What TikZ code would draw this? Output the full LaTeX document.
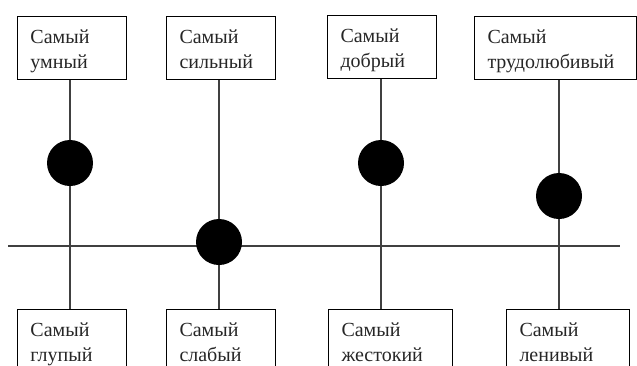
\documentclass[tikz,border=0pt]{standalone}
\usepackage{fontspec}
\setmainfont{Liberation Serif}
\usetikzlibrary{backgrounds}

\tikzset{
 trait/.style={draw, line width=1pt, anchor=north west, align=left,
   inner xsep=13pt, inner ysep=0pt, text height=27pt, text depth=36pt,
   text=black!85, font=\fontsize{20}{25}\selectfont},
 dot/.style={circle, fill=black, minimum size=46pt, inner sep=0pt},
 axis/.style={black!75, line width=1.3pt}
}

\begin{document}
\begin{tikzpicture}[x=1pt,y=-1pt]
\useasboundingbox (0,0) rectangle (637,365);
\clip (0,0) rectangle (637,365);
% upper qualities
\node[trait, text width=83pt]  (t1) at (17,16)  {Самый\\умный};
\node[trait, text width=83pt]  (t2) at (166,16) {Самый\\сильный};
\node[trait, text width=83pt]  (t3) at (327,15) {Самый\\добрый};
\node[trait, text width=136pt] (t4) at (474,16) {Самый\\трудолюбивый};
% lower qualities
\node[trait, text width=83pt]  (b1) at (17,309)  {Самый\\глупый};
\node[trait, text width=83pt]  (b2) at (166,309) {Самый\\слабый};
\node[trait, text width=98pt]  (b3) at (328,309) {Самый\\жестокий};
\node[trait, text width=97pt]  (b4) at (506,309) {Самый\\ленивый};
% marks
\node[dot] (c1) at (70,163) {};
\node[dot] (c2) at (219,242) {};
\node[dot] (c3) at (381,163) {};
\node[dot] (c4) at (559,196) {};
\coordinate (L) at (8,246);
\coordinate (R) at (620,246);
\begin{pgfonlayer}{background}
\draw[axis] (L) -- (R);
\foreach \i in {1,...,4} {
 \draw[axis] (c\i |- t\i.south) -- (c\i |- b\i.north);
}
\end{pgfonlayer}
\end{tikzpicture}
\end{document}
